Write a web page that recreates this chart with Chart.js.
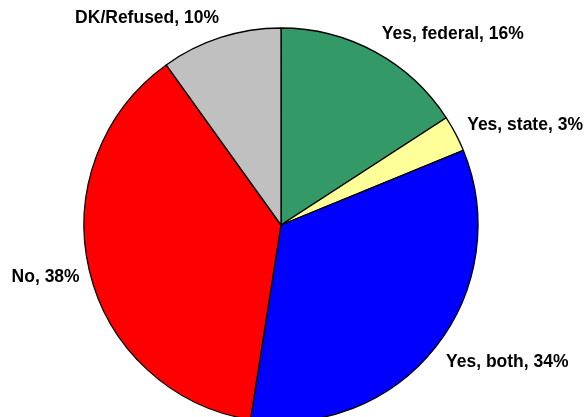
<!DOCTYPE html>
<html>
<head>
<meta charset="utf-8">
<script src="https://cdn.jsdelivr.net/npm/chart.js@4.4.1/dist/chart.umd.min.js"></script>
<style>
  html, body { margin: 0; padding: 0; background: #fff; overflow: hidden; }
  #wrap { width: 587px; height: 440px; }
</style>
</head>
<body>
<div id="wrap"><canvas id="myChart" width="587" height="440"></canvas></div>
<script>
const categories = ['Yes, federal', 'Yes, state', 'Yes, both', 'No', 'DK/Refused'];
const shares = [16, 3, 34, 38, 10];
const sliceColors = ['#339966', '#FFFF99', '#0000FF', '#FF0000', '#C0C0C0'];

const LABEL_FONT = 17.5;

// writes "name, NN%" just outside each slice
const outsideLabels = {
    id: 'outsideLabels',
    afterDraw(chart) {
        const ctx = chart.ctx;
        const arcs = chart.getDatasetMeta(0).data;
        ctx.save();
        ctx.font = 'bold ' + LABEL_FONT + 'px "Liberation Sans", Arial, sans-serif';
        ctx.fillStyle = '#000';
        ctx.textBaseline = 'alphabetic';
        arcs.forEach((arc, i) => {
            const {x, y, startAngle, endAngle, outerRadius} = arc.getProps(['x', 'y', 'startAngle', 'endAngle', 'outerRadius'], true);
            const mid = (startAngle + endAngle) / 2;
            const r = outerRadius + 12;
            const ax = x + Math.cos(mid) * r;
            const ay = y + Math.sin(mid) * r;
            ctx.textAlign = Math.cos(mid) >= 0 ? 'left' : 'right';
            // lift labels on the upper half, drop them on the lower half
            const ty = ay + Math.sin(mid) * 10 + LABEL_FONT * 0.36;
            ctx.fillText(categories[i] + ', ' + shares[i] + '%', ax + (Math.cos(mid) >= 0 ? 1 : 2), ty);
        });
        ctx.restore();
    }
};

new Chart(document.getElementById('myChart').getContext('2d'), {
    type: 'pie',
    data: {
        labels: categories,
        datasets: [{
            data: shares,
            backgroundColor: sliceColors,
            borderColor: '#000000',
            borderWidth: 1.3,
            borderAlign: 'center'
        }]
    },
    options: {
        responsive: false,
        animation: false,
        rotation: 0,
        layout: {
            padding: { left: 83.35, right: 108.35, top: 27.35, bottom: 17.35 }
        },
        plugins: {
            legend: { display: false },
            tooltip: { enabled: false }
        }
    },
    plugins: [outsideLabels]
});
</script>
</body>
</html>
